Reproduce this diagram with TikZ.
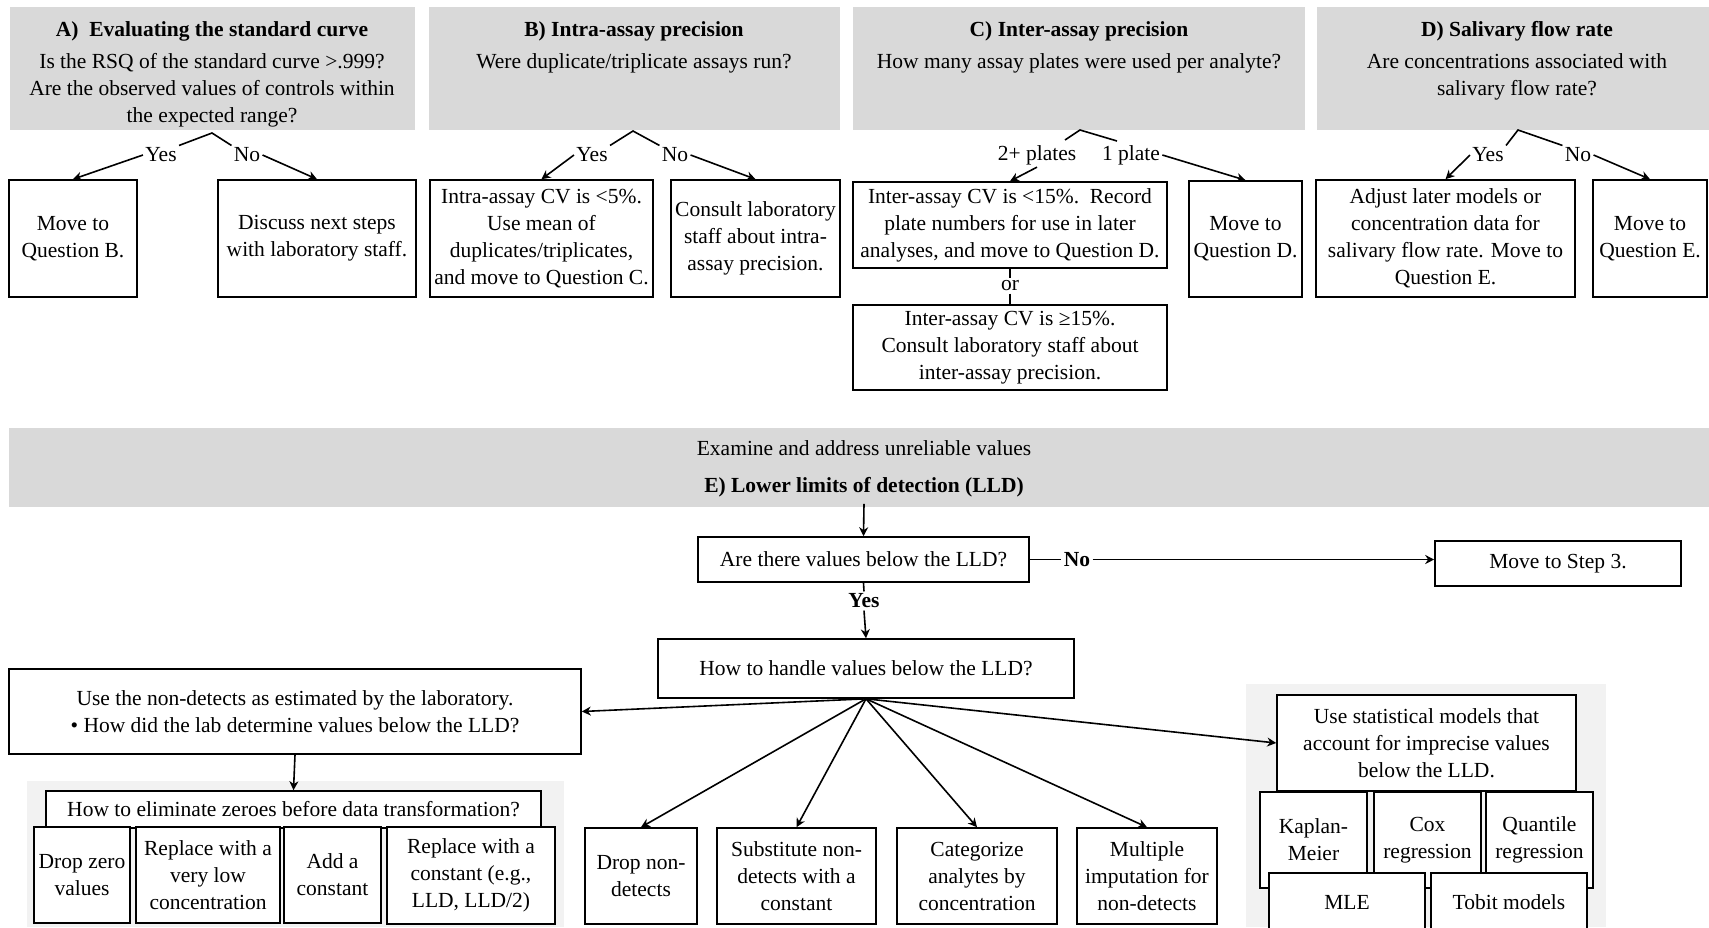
\documentclass[tikz,border=0pt]{standalone}
\usepackage{fontspec}
\setmainfont{Liberation Serif}
\usepackage{tikz}
\usetikzlibrary{arrows.meta, positioning, calc}
\definecolor{panelgrey}{RGB}{217,217,217}
\definecolor{lightgrey}{RGB}{242,242,242}

\tikzset{
  box/.style={draw, fill=white, line width=0.8pt, inner sep=0pt, align=center},
  sz/.style 2 args={minimum width=#1*0.5pt, minimum height=#2*0.5pt},
  hdr/.style={align=center, inner sep=0pt, anchor=north},
  lbl/.style={inner sep=1pt},
  arr/.style={->, line width=0.8pt},
  link/.style={line width=0.8pt},
}

\begin{document}
\begin{tikzpicture}[x=0.5pt, y=-0.5pt, >={Stealth[length=4.5pt, width=4.5pt]},
  font=\fontsize{10.75}{13.5}\selectfont]
  \path[use as bounding box, clip] (0,0) rectangle (1709,927);
  \fill[white] (0,0) rectangle (1709,927);

  % question panels A-D
  \fill[panelgrey] (10,7) rectangle (415,130);
  \fill[panelgrey] (429,7) rectangle (840,130);
  \fill[panelgrey] (853,7) rectangle (1305,130);
  \fill[panelgrey] (1317,7) rectangle (1709,130);

  \node[hdr] (hA) at (212,21) {\textbf{A)~~Evaluating the standard curve}\\[2.5pt]
    Is the RSQ of the standard curve >.999?\\ Are the observed values of controls within\\ the expected range?};
  \node[hdr] (hB) at (634,21) {\textbf{B) Intra-assay precision}\\[2.5pt] Were duplicate/triplicate assays run?};
  \node[hdr] (hC) at (1079,21) {\textbf{C) Inter-assay precision}\\[2.5pt] How many assay plates were used per analyte?};
  \node[hdr] (hD) at (1517,21) {\textbf{D) Salivary flow rate}\\[2.5pt] Are concentrations associated with\\ salivary flow rate?};

  % answers A
  \node[box, sz={128}{117}] (a1) at (73,238.5) {Move to\\ Question B.};
  \node[box, sz={198}{117}] (a2) at (317,238.5) {Discuss next steps\\ with laboratory staff.};
  \node[lbl] (yA) at (161,155) {Yes};
  \node[lbl] (nA) at (247,155) {No};
  \coordinate (pA) at (212,133);
  \draw[link] (yA.north east) -- (pA) -- (nA.north west);
  \draw[arr] (yA.west) -- (a1.north);
  \draw[arr] (nA.east) -- (a2.north);

  % answers B
  \node[box, sz={223}{117}] (b1) at (541.5,238.5) {Intra-assay CV is <5\%.\\ Use mean of\\ duplicates/triplicates,\\ and move to Question C.};
  \node[box, sz={169}{117}] (b2) at (755.5,238.5) {Consult laboratory\\ staff about intra-\\ assay precision.};
  \node[lbl] (yB) at (592,155) {Yes};
  \node[lbl] (nB) at (675,155) {No};
  \coordinate (pB) at (633,131);
  \draw[link] (yB.north east) -- (pB) -- (nB.north west);
  \draw[arr] (yB.west) -- (b1.north);
  \draw[arr] (nB.east) -- (b2.north);

  % answers C
  \node[box, sz={314}{86}] (c1) at (1010,225) {Inter-assay CV is <15\%.~~Record\\ plate numbers for use in later\\ analyses, and move to Question D.};
  \node[box, sz={314}{85}] (c2) at (1010,347.5) {Inter-assay CV is ≥15\%.\\ Consult laboratory staff about\\ inter-assay precision.};
  \node[box, sz={113}{116}] (c3) at (1245.5,239) {Move to\\ Question D.};
  \node[lbl] (orC) at (1010,286) {or};
  \draw[link] (c1.south) -- (orC.north);
  \draw[link] (orC.south) -- (c2.north);
  \node[lbl] (tC) at (1037,155) {2+ plates};
  \node[lbl] (oC) at (1131,155) {1 plate};
  \coordinate (lC) at (1065,140);
  \coordinate (pC) at (1080,130);
  \coordinate (rC) at (1117,141);
  \draw[link] (lC) -- (pC) -- (rC);
  \draw[arr] (tC.south) -- (c1.north);
  \draw[arr] (oC.east) -- (c3.north);

  % answers D
  \node[box, sz={259}{117}] (d1) at (1445.5,238.5) {Adjust later models or\\ concentration data for\\ salivary flow rate. Move to\\ Question E.};
  \node[box, sz={114}{117}] (d2) at (1650,238.5) {Move to\\ Question E.};
  \node[lbl] (yD) at (1488,155) {Yes};
  \node[lbl] (nD) at (1578,155) {No};
  \coordinate (pD) at (1518,130);
  \draw[link] (yD.north east) -- (pD) -- (nD.north west);
  \draw[arr] (yD.west) -- (d1.north);
  \draw[arr] (nD.east) -- (d2.north);

  % step E
  \fill[panelgrey] (9,428) rectangle (1709,507);
  \node (eSub) at (864,448) {Examine and address unreliable values};
  \node (eTitle) at (864,487) {\textbf{E) Lower limits of detection (LLD)}};
  \node[box, sz={331}{45}] (q) at (863.5,559.5) {Are there values below the LLD?};
  \draw[arr] (eTitle.south) -- (q.north);
  \node[lbl] (noE) at (1077,559.5) {\textbf{No}};
  \node[box, sz={246}{45}] (step3) at (1558,563.5) {Move to Step 3.};
  \draw[link] (q.east) -- (noE.west);
  \draw[arr] (noE.east) -- (noE.east -| step3.west);
  \node[lbl] (yesE) at (864,601) {\textbf{Yes}};
  \node[box, sz={416}{59}] (h) at (866,668.5) {How to handle values below the LLD?};
  \draw[link] (q.south) -- (yesE.north);
  \draw[arr] (yesE.south) -- (h.north);

  \fill[lightgrey] (27,781) rectangle (564,927);
  \fill[lightgrey] (1246,684) rectangle (1606,927);

  % laboratory estimates
  \node[box, sz={572}{85}] (u) at (295,711.5) {Use the non-detects as estimated by the laboratory.\\ • How did the lab determine values below the LLD?};
  \node[box, sz={495}{37}] (z) at (293.5,809.5) {How to eliminate zeroes before data transformation?};
  \node[box, sz={96}{96}] (z1) at (82,875) {Drop zero\\ values};
  \node[box, sz={144}{96}] (z2) at (208,875) {Replace with a\\ very low\\ concentration};
  \node[box, sz={97}{96}] (z3) at (332.5,875) {Add a\\ constant};
  \node[box, sz={168}{97}] (z4) at (471,875.5) {Replace with a\\ constant (e.g.,\\ LLD, LLD/2)};
  \draw[arr] (u.south) -- (z.north);

  % other options
  \node[box, sz={112}{96}] (f1) at (641,876) {Drop non-\\ detects};
  \node[box, sz={159}{96}] (f2) at (796.5,876) {Substitute non-\\ detects with a\\ constant};
  \node[box, sz={160}{96}] (f3) at (977,876) {Categorize\\ analytes by\\ concentration};
  \node[box, sz={140}{96}] (f4) at (1147,876) {Multiple\\ imputation for\\ non-detects};

  % statistical models
  \node[box, sz={299}{96}] (s) at (1426.5,743) {Use statistical models that\\ account for imprecise values\\ below the LLD.};
  \node[box, sz={107}{96}] (s1) at (1313.5,840) {Kaplan-\\ Meier};
  \node[box, sz={107}{96}] (s2) at (1427.5,840) {Cox\\ regression};
  \node[box, sz={107}{96}] (s3) at (1539.5,840) {Quantile\\ regression};
  \node[box, sz={156}{58}] (s4) at (1347,902) {MLE};
  \node[box, sz={156}{58}] (s5) at (1509,902) {Tobit models};

  \draw[arr] (h.south) -- (u.east);
  \draw[arr] (h.south) -- (s.west);
  \foreach \t in {f1,f2,f3,f4}
    \draw[arr] (h.south) -- (\t.north);
\end{tikzpicture}
\end{document}
